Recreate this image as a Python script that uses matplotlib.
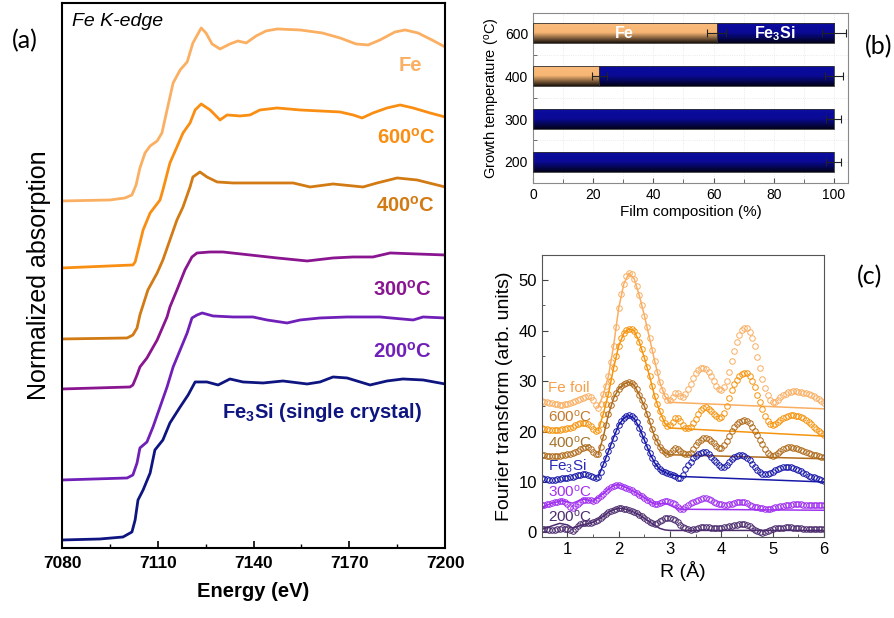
import numpy as np
import matplotlib
matplotlib.use('Agg')
import matplotlib.pyplot as plt
from matplotlib.colors import LinearSegmentedColormap
from matplotlib.ticker import MultipleLocator

plt.rcParams['font.family'] = ['Liberation Sans', 'DejaVu Sans']
plt.rcParams['mathtext.fontset'] = 'custom'
plt.rcParams['mathtext.rm'] = 'Liberation Sans'
plt.rcParams['mathtext.bf'] = 'Liberation Sans:bold'
plt.rcParams['mathtext.it'] = 'Liberation Sans:italic'

# ---- (a) XANES, offset spectra
fe_E = [7080, 7095, 7099.7, 7101.9, 7103.2, 7104.4, 7106.0, 7107.6, 7109.8, 7111.3, 7112.9, 7114.8,
        7117.0, 7119.2, 7121.0, 7123.6, 7125.1, 7127.0, 7129.5, 7132.6, 7135.1, 7137.7, 7140.8,
        7143.9, 7147.4, 7154.6, 7161.5, 7167.1, 7172.1, 7175.9, 7179.6, 7184.3, 7187.5, 7191.5,
        7195.9, 7200]
fe_mu = [3.47, 3.48, 3.50, 3.53, 3.63, 3.80, 3.95, 4.02, 4.07, 4.15, 4.38, 4.65, 4.78, 4.86, 5.05,
         5.20, 5.15, 5.04, 4.99, 5.04, 5.07, 5.05, 5.12, 5.17, 5.19, 5.18, 5.15, 5.10, 5.04, 5.03,
         5.08, 5.16, 5.18, 5.15, 5.08, 5.01]

t600_E = [7080, 7102.2, 7102.9, 7104.4, 7105.4, 7107.6, 7110.7, 7111.6, 7113.8, 7116.0, 7117.9,
          7120.1, 7121.7, 7123.6, 7126.4, 7129.5, 7131.7, 7135.8, 7138.9, 7142.0, 7147.4, 7154.6,
          7160.8, 7167.1, 7171.2, 7174.0, 7177.4, 7181.8, 7185.9, 7190.0, 7195.3, 7200]
t600_mu = [2.80, 2.83, 2.86, 3.05, 3.18, 3.35, 3.48, 3.58, 3.85, 4.01, 4.15, 4.25, 4.38, 4.44, 4.38,
           4.28, 4.33, 4.32, 4.33, 4.38, 4.40, 4.38, 4.37, 4.36, 4.33, 4.30, 4.35, 4.40, 4.43, 4.40,
           4.35, 4.31]

t400_E = [7080, 7100.4, 7102.2, 7103.5, 7104.4, 7105.4, 7106.9, 7109.8, 7111.6, 7113.8, 7116.0,
          7117.9, 7120.1, 7121.0, 7123.2, 7125.4, 7128.6, 7133.6, 7144.2, 7152.4, 7157.7, 7164.9,
          7174.3, 7178.7, 7185.0, 7191.2, 7200]
t400_mu = [2.09, 2.10, 2.13, 2.20, 2.33, 2.43, 2.58, 2.75, 2.88, 3.08, 3.28, 3.41, 3.61, 3.71, 3.76,
           3.71, 3.66, 3.65, 3.65, 3.65, 3.61, 3.64, 3.61, 3.65, 3.70, 3.68, 3.61]

t300_E = [7080, 7101.3, 7102.2, 7103.5, 7104.4, 7106.6, 7109.8, 7112.9, 7113.8, 7116.0, 7118.5,
          7120.7, 7122.3, 7126.4, 7130.4, 7138.9, 7147.4, 7156.8, 7164.9, 7171.2, 7177.4, 7182.8,
          7191.2, 7200]
t300_mu = [1.59, 1.61, 1.63, 1.73, 1.81, 1.90, 2.08, 2.31, 2.41, 2.58, 2.78, 2.91, 2.95, 2.96, 2.96,
           2.93, 2.90, 2.87, 2.90, 2.91, 2.91, 2.95, 2.94, 2.93]

t200_E = [7080, 7100.4, 7102.2, 7103.5, 7104.4, 7106.6, 7108.5, 7110.7, 7112.9, 7114.8, 7117.0,
          7119.2, 7120.7, 7122.3, 7123.9, 7127.3, 7133.6, 7139.8, 7144.2, 7150.5, 7154.6, 7160.8,
          7169.3, 7179.6, 7190.0, 7193.1, 7200]
t200_mu = [0.68, 0.70, 0.73, 0.85, 1.00, 1.06, 1.21, 1.41, 1.61, 1.81, 1.98, 2.15, 2.30, 2.33, 2.35,
           2.32, 2.31, 2.31, 2.28, 2.25, 2.28, 2.30, 2.31, 2.31, 2.28, 2.31, 2.30]

fe3si_E = [7080, 7091.9, 7099.1, 7101.9, 7102.9, 7103.8, 7105.4, 7107.6, 7109.1, 7111.6, 7113.8,
           7117.0, 7119.5, 7121.7, 7125.4, 7128.9, 7132.6, 7136.7, 7143.0, 7149.2, 7156.8, 7160.8,
           7164.9, 7169.3, 7176.5, 7181.8, 7186.8, 7193.1, 7200]
fe3si_mu = [0.08, 0.09, 0.11, 0.16, 0.28, 0.48, 0.58, 0.75, 0.98, 1.08, 1.25, 1.41, 1.53, 1.66, 1.66,
            1.63, 1.69, 1.66, 1.65, 1.67, 1.64, 1.66, 1.71, 1.70, 1.63, 1.67, 1.69, 1.68, 1.64]

# ---- (b) film composition
temps = ['200', '300', '400', '600']
fe_pct = [0, 0, 22, 61]
fe_err = [0, 0, 2.5, 3]
tot_err = [2.5, 2.5, 3, 4]

# ---- (c) Fourier transforms, R = 0.5 ... 6.0 step 0.05
R = np.round(np.arange(0.5, 6.001, 0.05), 2)
ft_fe = [26.0, 25.9, 25.8, 25.7, 25.6, 25.5, 25.4, 25.3, 25.3, 25.4,
         25.5, 25.6, 25.8, 26.0, 26.2, 26.5, 26.7, 26.9, 27.0, 26.8,
         26.2, 25.2, 24.6, 25.5, 27.5, 29.0, 31.0, 33.8, 37.0, 40.8,
         44.5, 47.2, 49.3, 50.8, 51.5, 51.3, 50.3, 48.9, 47.0, 45.1,
         43.0, 40.8, 38.5, 36.2, 34.0, 31.8, 29.8, 28.2, 27.0, 26.3,
         26.2, 26.9, 27.6, 27.6, 27.0, 26.8, 27.5, 28.5, 29.5, 30.6,
         31.6, 32.2, 32.5, 32.6, 32.4, 31.8, 31.0, 30.0, 29.0, 28.4,
         28.3, 28.8, 30.0, 31.8, 34.0, 36.0, 37.8, 39.2, 40.2, 40.6,
         40.5, 39.8, 38.6, 36.9, 34.8, 32.6, 30.5, 28.7, 27.3, 26.3,
         25.8, 25.8, 26.3, 26.8, 27.2, 27.5, 27.8, 27.9, 28.0, 28.0,
         27.9, 27.8, 27.7, 27.6, 27.4, 27.2, 27.0, 26.7, 26.4, 26.1, 25.7]
ft_600 = [20.7, 20.6, 20.5, 20.4, 20.4, 20.3, 20.3, 20.4, 20.5, 20.6,
          20.7, 20.8, 21.0, 21.2, 21.4, 21.6, 21.7, 21.7, 21.5, 21.1,
          20.5, 20.1, 20.3, 21.5, 23.5, 25.4, 27.5, 30.0, 32.6, 35.0,
          37.0, 38.5, 39.5, 40.1, 40.4, 40.4, 40.0, 39.1, 37.8, 36.3,
          34.6, 32.8, 31.0, 29.0, 27.0, 25.4, 24.0, 22.7, 21.6, 21.1,
          21.2, 21.9, 22.6, 22.6, 22.0, 21.3, 20.8, 20.7, 21.0, 21.6,
          22.4, 23.4, 24.2, 24.7, 24.8, 24.5, 24.0, 23.5, 23.0, 22.7,
          22.8, 23.6, 25.0, 26.6, 28.2, 29.4, 30.3, 31.0, 31.5, 31.7,
          31.6, 31.0, 30.0, 28.8, 27.3, 25.8, 24.5, 23.1, 22.0, 21.4,
          21.3, 21.5, 21.9, 22.3, 22.6, 22.9, 23.1, 23.2, 23.2, 23.1,
          23.0, 22.8, 22.6, 22.3, 21.9, 21.5, 21.0, 20.6, 20.2, 19.8, 19.4]
ft_400 = [15.4, 15.3, 15.2, 15.1, 15.1, 15.1, 15.2, 15.2, 15.3, 15.4,
          15.5, 15.6, 15.8, 16.0, 16.2, 16.5, 16.8, 17.0, 17.0, 16.6,
          16.0, 15.5, 15.6, 17.0, 19.0, 21.2, 23.4, 25.2, 26.6, 27.7,
          28.5, 29.0, 29.4, 29.7, 29.8, 29.6, 29.2, 28.4, 27.3, 26.2,
          25.0, 23.5, 22.0, 20.5, 19.0, 17.9, 17.0, 16.3, 15.9, 15.6,
          15.7, 16.3, 16.7, 16.6, 16.2, 15.8, 15.5, 15.5, 15.8, 16.5,
          17.3, 17.9, 18.4, 18.7, 18.7, 18.5, 18.2, 17.7, 17.2, 16.8,
          16.8, 17.3, 18.2, 19.2, 20.2, 20.9, 21.5, 21.9, 22.1, 22.2,
          22.1, 21.7, 21.0, 20.2, 19.3, 18.4, 17.5, 16.6, 15.8, 15.3,
          15.2, 15.4, 15.8, 16.2, 16.5, 16.7, 16.9, 16.9, 16.8, 16.7,
          16.5, 16.4, 16.2, 16.0, 15.8, 15.6, 15.4, 15.3, 15.1, 15.0, 14.9]
ft_fe3si = [10.7, 10.6, 10.5, 10.4, 10.4, 10.4, 10.5, 10.6, 10.7, 10.8,
            10.8, 10.9, 11.0, 11.2, 11.3, 11.4, 11.5, 11.5, 11.4, 11.2,
            11.0, 10.8, 11.0, 12.0, 13.5, 14.8, 16.1, 17.4, 18.8, 20.1,
            21.3, 22.1, 22.7, 23.1, 23.2, 23.0, 22.6, 21.8, 20.8, 19.6,
            18.3, 17.0, 15.8, 14.7, 13.8, 13.1, 12.5, 12.1, 11.9, 11.7,
            11.5, 11.3, 11.1, 10.8, 10.7, 11.4, 12.5, 13.3, 14.0, 14.7,
            15.2, 15.6, 15.8, 16.0, 16.0, 15.6, 15.0, 14.4, 13.9, 13.4,
            13.0, 13.0, 13.4, 13.9, 14.5, 14.9, 15.2, 15.4, 15.4, 15.2,
            14.8, 14.3, 13.6, 12.9, 12.3, 11.9, 11.6, 11.5, 11.5, 11.7,
            12.0, 12.3, 12.6, 12.8, 12.9, 13.0, 13.0, 12.9, 12.8, 12.6,
            12.4, 12.1, 11.8, 11.5, 11.2, 11.0, 10.9, 10.7, 10.6, 10.4, 10.2]
ft_300 = [5.5, 5.5, 5.6, 5.7, 5.8, 6.0, 6.1, 6.2, 6.3, 6.0,
          5.6, 5.1, 4.8, 5.2, 5.7, 6.1, 6.4, 6.5, 6.5, 6.4,
          6.3, 6.4, 6.8, 7.2, 7.7, 8.2, 8.6, 9.0, 9.3, 9.5,
          9.5, 9.3, 9.1, 8.9, 8.6, 8.4, 8.1, 7.8, 7.5, 7.2,
          6.9, 6.5, 6.2, 5.9, 5.7, 5.7, 5.9, 6.1, 6.3, 6.3,
          6.1, 5.9, 5.6, 5.1, 4.6, 4.7, 5.0, 5.4, 5.8, 6.1,
          6.3, 6.5, 6.7, 6.8, 6.8, 6.6, 6.4, 6.1, 5.9, 5.7,
          5.6, 5.5, 5.5, 5.6, 5.7, 5.9, 6.0, 6.1, 6.1, 6.0,
          5.8, 5.5, 5.3, 5.1, 5.0, 4.9, 4.8, 4.7, 4.6, 4.7,
          4.8, 5.0, 5.1, 5.2, 5.3, 5.4, 5.4, 5.5, 5.6, 5.6,
          5.6, 5.6, 5.5, 5.5, 5.5, 5.5, 5.5, 5.5, 5.4, 5.4, 5.4]
ft_200 = [0.7, 0.7, 0.6, 0.5, 0.5, 0.5, 0.6, 0.7, 0.8, 0.7,
          0.6, 0.4, 0.2, 0.7, 1.3, 1.6, 1.8, 1.9, 1.9, 1.9,
          2.0, 2.2, 2.4, 2.8, 3.2, 3.6, 4.0, 4.3, 4.5, 4.7,
          4.8, 4.8, 4.7, 4.6, 4.4, 4.2, 4.0, 3.8, 3.5, 3.2,
          2.8, 2.4, 2.1, 1.8, 1.7, 1.9, 2.2, 2.5, 2.8, 2.9,
          2.8, 2.7, 2.5, 2.0, 1.5, 1.1, 0.8, 0.6, 0.5, 0.6,
          0.7, 0.9, 1.0, 1.0, 1.0, 1.0, 0.9, 0.9, 0.8, 0.8,
          0.9, 1.0, 1.1, 1.2, 1.3, 1.4, 1.5, 1.6, 1.7, 1.7,
          1.5, 1.2, 0.8, 0.5, 0.3, 0.1, -0.1, 0.0, 0.3, 0.5,
          0.7, 0.8, 0.8, 0.9, 0.9, 1.0, 1.0, 1.0, 0.9, 0.9,
          0.8, 0.8, 0.7, 0.7, 0.7, 0.7, 0.7, 0.7, 0.7, 0.7, 0.7]

fit_R = [1.6, 1.7, 1.8, 1.9, 2.0, 2.1, 2.2, 2.3, 2.4, 2.5, 2.6, 2.7, 2.8, 2.9, 3.0, 6.0]
fit_fe = [24.8, 27.3, 31.0, 37.0, 44.5, 49.3, 51.4, 50.3, 47.0, 43.0, 38.5, 34.0, 29.8, 27.0, 25.8, 24.5]
fit_600 = [20.2, 23.5, 27.5, 32.6, 37.0, 39.5, 40.4, 40.0, 37.8, 34.6, 31.0, 27.0, 24.0, 21.6, 20.7, 19.1]
fit_400 = [15.5, 19.0, 23.4, 26.6, 28.5, 29.4, 29.8, 29.2, 27.3, 25.0, 22.0, 19.0, 17.0, 15.8, 15.4, 14.6]
fit_R_fe3si = [1.6, 1.7, 1.8, 1.9, 2.0, 2.1, 2.2, 2.3, 2.4, 2.5, 2.6, 2.7, 2.8, 2.9, 3.0, 3.2, 6.0]
fit_fe3si = [11.0, 13.5, 16.1, 18.8, 21.3, 22.7, 23.2, 22.6, 20.8, 18.3, 15.8, 13.8, 12.5, 11.9, 11.5, 11.1, 10.0]
fit_R_300 = [0.5, 0.7, 0.9, 1.1, 1.3, 1.5, 1.7, 1.8, 1.9, 2.0, 2.1, 2.2, 2.3, 2.4, 2.5, 2.6, 2.7, 2.8,
             2.9, 3.0, 3.1, 3.2, 6.0]
fit_300 = [5.0, 5.8, 6.3, 5.8, 6.6, 6.2, 7.7, 8.6, 9.3, 9.5, 9.1, 8.6, 8.1, 7.5, 6.9, 6.2, 5.6, 5.7,
           5.8, 5.4, 4.9, 4.6, 4.4]
fit_R_200 = [0.5, 0.7, 0.85, 1.0, 1.1, 1.3, 1.5, 1.7, 1.8, 1.9, 2.0, 2.1, 2.2, 2.3, 2.4, 2.5, 2.6, 2.7,
             2.8, 2.9, 3.0, 6.0]
fit_200 = [0.6, 1.3, 1.8, 1.5, 0.9, 1.5, 2.0, 3.2, 4.0, 4.5, 4.8, 4.7, 4.4, 4.0, 3.5, 2.8, 2.1, 1.4,
           0.8, 0.5, 0.4, 0.4]

fig = plt.figure(figsize=(8.95, 6.18), dpi=100)

# ================= panel (a)
ax = fig.add_axes([0.0693, 0.1133, 0.428, 0.8819])
spectra = [
    (fe_E, fe_mu, '#FBAF62', 'Fe', 7189, 4.82),
    (t600_E, t600_mu, '#F98E12', '600$^{\\mathbf{o}}$C', 7187.8, 4.10),
    (t400_E, t400_mu, '#D27A14', '400$^{\\mathbf{o}}$C', 7187.5, 3.42),
    (t300_E, t300_mu, '#8A1590', '300$^{\\mathbf{o}}$C', 7186.8, 2.58),
    (t200_E, t200_mu, '#7020B8', '200$^{\\mathbf{o}}$C', 7186.8, 1.96),
    (fe3si_E, fe3si_mu, '#0E1580', 'Fe$_\\mathbf{3}$Si (single crystal)', 7161.5, 1.35),
]
for E, mu, col, lab, tx, ty in spectra:
    ax.plot(E, mu, color=col, lw=2.0)
    ax.text(tx, ty, lab, color=col, fontsize=14.5, fontweight='bold', ha='center', va='center')
ax.text(7083, 5.26, 'Fe K-edge', fontsize=14, style='italic', va='center')
ax.set_xlim(7080, 7200)
ax.set_ylim(0, 5.45)
ax.set_xticks([7080, 7110, 7140, 7170, 7200])
ax.xaxis.set_minor_locator(MultipleLocator(15))
ax.set_yticks([])
ax.tick_params(axis='x', which='major', direction='in', length=5, width=1.2, labelsize=12.5, pad=6)
ax.tick_params(axis='x', which='minor', direction='in', length=3, width=1.0)
for lbl in ax.get_xticklabels():
    lbl.set_fontweight('bold')
for s in ax.spines.values():
    s.set_linewidth(1.5)
ax.set_xlabel('Energy (eV)', fontsize=14.5, fontweight='bold', labelpad=8)
ax.set_ylabel('Normalized absorption', fontsize=18, labelpad=8)
fig.text(0.028, 0.935, '(a)', fontsize=18, family='Lato', ha='center', va='center')

# ================= panel (b)
axb = fig.add_axes([0.5955, 0.7039, 0.352, 0.2751])
ypos = np.arange(len(temps))
fe3si_pct = [100 - f for f in fe_pct]
bh = 0.48
cmap_fe = LinearSegmentedColormap.from_list('fe', [(0, '#1c140c'), (0.5, '#F7B674'), (1, '#F9BC7E')])
cmap_si = LinearSegmentedColormap.from_list('si', [(0, '#02021a'), (0.5, '#0A0A96'), (1, '#0C0CA0')])
grad = np.linspace(0, 1, 64)[:, None]
bars_fe = axb.barh(ypos, fe_pct, height=bh, color='none', edgecolor='#333333', lw=0.6, zorder=3)
bars_si = axb.barh(ypos, fe3si_pct, left=fe_pct, height=bh, color='none', edgecolor='#333333',
                   lw=0.6, zorder=3)
for bars, cm in [(bars_fe, cmap_fe), (bars_si, cmap_si)]:
    for p in bars:
        if p.get_width() <= 0:
            continue
        x0, y0 = p.get_x(), p.get_y()
        im = axb.imshow(grad, extent=[x0, x0 + p.get_width(), y0, y0 + p.get_height()],
                        origin='lower', aspect='auto', cmap=cm, zorder=2)
        im.set_clip_path(p)
errs_fe = [(fe_pct[i], ypos[i], fe_err[i]) for i in range(len(temps)) if fe_err[i] > 0]
axb.errorbar([e[0] for e in errs_fe], [e[1] for e in errs_fe], xerr=[e[2] for e in errs_fe],
             fmt='none', ecolor='#222222', elinewidth=0.8, capsize=3, capthick=0.8, zorder=4)
axb.errorbar([100] * len(temps), ypos, xerr=tot_err, fmt='none', ecolor='#222222',
             elinewidth=0.8, capsize=3, capthick=0.8, zorder=4)
axb.text(fe_pct[3] / 2, ypos[3], 'Fe', color='white', fontsize=11.5, fontweight='bold',
         ha='center', va='center', zorder=5)
axb.text((fe_pct[3] + 100) / 2, ypos[3], 'Fe$_\\mathbf{3}$Si', color='white', fontsize=11.5,
         fontweight='bold', ha='center', va='center', zorder=5)
axb.set_xlim(0, 104.7)
axb.set_ylim(-0.49, 3.47)
axb.set_yticks(ypos)
axb.set_yticklabels(temps)
axb.set_xticks([0, 20, 40, 60, 80, 100])
axb.xaxis.set_minor_locator(MultipleLocator(10))
axb.set_yticks([0.5, 1.5, 2.5], minor=True)
axb.grid(which='both', color='#e4e4e4', ls=':', lw=0.6, zorder=0)
axb.set_axisbelow(True)
axb.tick_params(axis='both', which='major', labelsize=10, direction='in', color='#555555')
axb.tick_params(axis='y', which='major', length=0)
axb.tick_params(axis='both', which='minor', direction='in', length=3, color='#555555')
for s in axb.spines.values():
    s.set_color('#8a8a8a')
axb.set_xlabel('Film composition (%)', fontsize=11, labelpad=2)
axb.set_ylabel('Growth temperature ($^{\\rm o}$C)', fontsize=10.5, labelpad=2)
fig.text(0.982, 0.925, '(b)', fontsize=18, family='Lato', ha='center', va='center')

# ================= panel (c)
axc = fig.add_axes([0.6053, 0.1311, 0.3154, 0.4563])
ft_sets = [
    (ft_fe, fit_R, fit_fe, '#F9AE62', 'Fe foil', 28.7, '#F7A04A'),
    (ft_600, fit_R, fit_600, '#F5940E', '600$^{\\rm o}$C', 22.9, '#C47A2C'),
    (ft_400, fit_R, fit_400, '#B06C1C', '400$^{\\rm o}$C', 17.8, '#A5742C'),
    (ft_fe3si, fit_R_fe3si, fit_fe3si, '#1818A8', 'Fe$_3$Si', 13.1, '#2A2AB8'),
    (ft_300, fit_R_300, fit_300, '#A030F0', '300$^{\\rm o}$C', 8.1, '#A030F0'),
    (ft_200, fit_R_200, fit_200, '#4C2C6E', '200$^{\\rm o}$C', 3.1, '#4C2C6E'),
]
for y, fr, fy, col, lab, ty, tcol in ft_sets:
    axc.plot(R, y, 'o', mfc='none', mec=col, ms=4.0, mew=0.7)
    axc.plot(fr, fy, '-', color=col, lw=1.1)
    axc.text(0.62, ty, lab, color=tcol, fontsize=11, va='center', ha='left')
axc.set_xlim(0.5, 6)
axc.set_ylim(-0.9, 55)
axc.set_xticks([1, 2, 3, 4, 5, 6])
axc.xaxis.set_minor_locator(MultipleLocator(0.5))
axc.set_yticks([0, 10, 20, 30, 40, 50])
axc.yaxis.set_minor_locator(MultipleLocator(5))
axc.tick_params(axis='both', which='major', direction='in', labelsize=12, length=4, color='#444444')
axc.tick_params(axis='both', which='minor', direction='in', length=2.5, color='#444444')
for s in axc.spines.values():
    s.set_color('#555555')
axc.set_xlabel('R (Å)', fontsize=14, labelpad=3)
axc.set_ylabel('Fourier transform (arb. units)', fontsize=14, labelpad=4)
fig.text(0.972, 0.552, '(c)', fontsize=18, family='Lato', ha='center', va='center')

fig.savefig('out.png', dpi=100)
